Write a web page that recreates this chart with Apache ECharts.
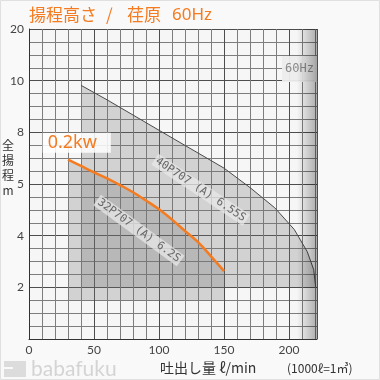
<!DOCTYPE html>
<html><head><meta charset="utf-8">
<script src="https://cdn.jsdelivr.net/npm/echarts@6/dist/echarts.min.js"></script>
<style>html,body{margin:0;padding:0;background:#f9f9f9}#c{width:380px;height:380px}</style>
</head><body><div id="c"></div>
<script>
// ---- data ----
const yTickLabels = [0, 2, 4, 5, 8, 10, 20];          // non-linear head scale (equal spacing per label)
const xTickLabels = [0, 50, 100, 150, 200];
const xMax = 221.5;
// 0.2kw performance curve (Q l/min, H m)
const curve02kwQ = [30, 40, 50, 60, 70, 80, 90, 100, 110, 120, 130, 140, 150];
const curve02kwH = [6.42, 6.05, 5.68, 5.33, 4.98, 4.84, 4.68, 4.51, 4.31, 4.09, 3.75, 3.20, 2.63];
// 32P707(A) 6.2S selection range: between Q limits, bottom head, top = 0.2kw curve
const range32Q = [30, 150];
const range32MinH = 1.5;
// 40P707(A) 6.55S selection range: upper boundary
const curve40Q = [40, 60, 80, 100, 120, 140, 150, 170, 189, 204, 214, 219, 220.5];
const curve40H = [9.82, 9.26, 8.67, 8.08, 7.24, 6.36, 5.92, 4.93, 4.54, 4.12, 3.38, 2.68, 2.0];
const range40MinH = 2;
// annotations
const noteTexts = ['40P707 (A) 6.55S', '32P707 (A) 6.2S'];
const noteQ = [132, 84.5];
const noteH = [4.89, 4.10];
const kwLabel = '0.2kw';
const kwQ = 10.5, kwH = 7.4;

// head -> position on the segmented axis
function headToIdx(h) {
  for (let i = 0; i < yTickLabels.length - 1; i++) {
    const a = yTickLabels[i], b = yTickLabels[i + 1];
    if (h <= b || i === yTickLabels.length - 2) return i + (h - a) / (b - a);
  }
}
const poly32 = [[range32Q[0], range32MinH]]
  .concat(curve02kwQ.map((q, i) => [q, curve02kwH[i]]))
  .concat([[range32Q[1], range32MinH]]);
const poly40 = [[curve40Q[0], range40MinH]]
  .concat(curve40Q.map((q, i) => [q, curve40H[i]]));
const polygons = [poly40, poly32];

const ORANGE = '#f47b20';
const chart = echarts.init(document.getElementById('c'), null, {renderer: 'canvas'});
chart.setOption({
  animation: false,
  backgroundColor: '#f9f9f9',
  grid: {left: 29, top: 29, width: 288, height: 310, containLabel: false, show: true, backgroundColor: '#f6f6f6', borderWidth: 0},
  xAxis: {
    type: 'value', min: 0, max: xMax, interval: 50,
    axisLine: {show: true, lineStyle: {color: '#333', width: 1}},
    axisTick: {show: false},
    axisLabel: {color: '#444', fontSize: 12, fontFamily: 'Lato', margin: 5,
      formatter: v => xTickLabels.indexOf(v) >= 0 ? String(v) : ''},
    splitLine: {show: true, lineStyle: {color: '#4d4d4d', width: 1}},
    minorTick: {show: false, splitNumber: 5},
    minorSplitLine: {show: true, lineStyle: {color: '#7d7d7d', width: 1}}
  },
  yAxis: {
    type: 'value', min: 0, max: yTickLabels.length - 1, interval: 1,
    axisLine: {show: true, lineStyle: {color: '#333', width: 1}},
    axisTick: {show: false},
    axisLabel: {color: '#444', fontSize: 12, fontFamily: 'Lato', margin: 5,
      formatter: v => (Number.isInteger(v) && v > 0 && yTickLabels[v] !== undefined) ? String(yTickLabels[v]) : ''},
    splitLine: {show: true, lineStyle: {color: '#4d4d4d', width: 1}},
    minorTick: {show: false, splitNumber: 4},
    minorSplitLine: {show: true, lineStyle: {color: '#7d7d7d', width: 1}}
  },
  series: [
    {
      type: 'custom', silent: true, z: 3,
      data: [[0, 0], [1, 0]],
      renderItem: (params, api) => {
        const pts = polygons[params.dataIndex].map(p => api.coord([p[0], headToIdx(p[1])]));
        return {type: 'polygon', shape: {points: pts}, style: {fill: 'rgba(115,115,115,0.27)'}};
      }
    },
    {
      type: 'line', silent: true, z: 4, symbol: 'none',
      data: curve40Q.map((q, i) => [q, headToIdx(curve40H[i])]),
      lineStyle: {color: '#4a4a4a', width: 1}
    },
    {
      type: 'line', silent: true, z: 5, symbol: 'none', smooth: 0.4,
      data: curve02kwQ.map((q, i) => [q, headToIdx(curve02kwH[i])]),
      lineStyle: {color: ORANGE, width: 2.5}
    },
    {
      type: 'custom', silent: true, z: 6,
      data: [[0, 0], [1, 0]],
      renderItem: (params, api) => {
        const i = params.dataIndex;
        const p = api.coord([noteQ[i], headToIdx(noteH[i])]);
        return {type: 'text', x: p[0], y: p[1], rotation: i === 0 ? -0.59 : -0.63,
          style: {text: noteTexts[i], fill: '#666', font: '11px "DejaVu Sans Mono"', align: 'center', verticalAlign: 'middle',
            backgroundColor: 'rgba(232,232,232,0.75)', padding: [1, 2]}};
      }
    },
    {
      type: 'custom', silent: true, z: 7,
      data: [[0, 0]],
      renderItem: (params, api) => {
        const p = api.coord([kwQ, headToIdx(kwH)]);
        return {type: 'text', x: p[0], y: p[1],
          style: {text: kwLabel, fill: ORANGE, font: '18px "Noto Sans"', align: 'left', verticalAlign: 'middle',
            backgroundColor: 'rgba(255,255,255,0.85)', padding: [1, 14, 1, 5]}};
      }
    }
  ],
  graphic: [
    {type: 'rect', z: 100, silent: true, shape: {x: 297, y: 29, width: 20, height: 310},
      style: {fill: new echarts.graphic.LinearGradient(0, 0, 1, 0, [{offset: 0, color: 'rgba(0,0,0,0)'}, {offset: 1, color: 'rgba(0,0,0,0.3)'}])}},
    {type: 'rect', z: 90, silent: true, shape: {x: 282, y: 56, width: 35, height: 26}, style: {fill: 'rgba(236,236,236,0.95)'}},
    {type: 'text', z: 95, silent: true, x: 285, y: 69, style: {text: '60Hz', fill: '#8a8a8a', font: '12px "DejaVu Sans Mono"', verticalAlign: 'middle'}},
    {type: 'text', z: 100, x: 29, y: 15, style: {text: '揚程高さ', fill: ORANGE, font: '17px "Noto Sans CJK JP"', verticalAlign: 'middle'}},
    {type: 'text', z: 100, x: 106, y: 15, style: {text: '/', fill: ORANGE, font: '17px "Noto Sans CJK JP"', verticalAlign: 'middle'}},
    {type: 'text', z: 100, x: 127, y: 15, style: {text: '荏原', fill: ORANGE, font: '17px "Noto Sans CJK JP"', verticalAlign: 'middle'}},
    {type: 'text', z: 100, x: 172, y: 15, style: {text: '60Hz', fill: ORANGE, font: '17px "Noto Sans"', verticalAlign: 'middle'}},
    {type: 'text', z: 100, x: 8, y: 168, style: {text: '全\n揚\n程\nm', fill: '#333', font: '12px "Noto Sans CJK JP"', lineHeight: 15, align: 'center', verticalAlign: 'middle'}},
    {type: 'text', z: 100, x: 160, y: 368, style: {text: '吐出し量 ℓ/min', fill: '#333', font: '14px "Noto Sans CJK JP"', verticalAlign: 'middle'}},
    {type: 'text', z: 100, x: 287, y: 368, style: {text: '(1000ℓ=1㎥)', fill: '#333', font: '12px "Noto Sans CJK JP"', verticalAlign: 'middle'}},
    {type: 'rect', z: 100, silent: true, shape: {x: 4, y: 361, width: 22, height: 16}, style: {fill: '#dcdcdc'}},
    {type: 'rect', z: 101, silent: true, shape: {x: 4, y: 367, width: 9, height: 2}, style: {fill: '#f9f9f9'}},
    {type: 'text', z: 100, x: 31, y: 369, style: {text: 'babafuku', fill: '#d4d4d4', font: '21px Lato', verticalAlign: 'middle'}},
    {type: 'rect', z: 100, silent: true, shape: {x: 0.5, y: 0.5, width: 379, height: 379}, style: {fill: 'none', stroke: '#e0e0e0', lineWidth: 1}}
  ]
});
</script></body></html>
